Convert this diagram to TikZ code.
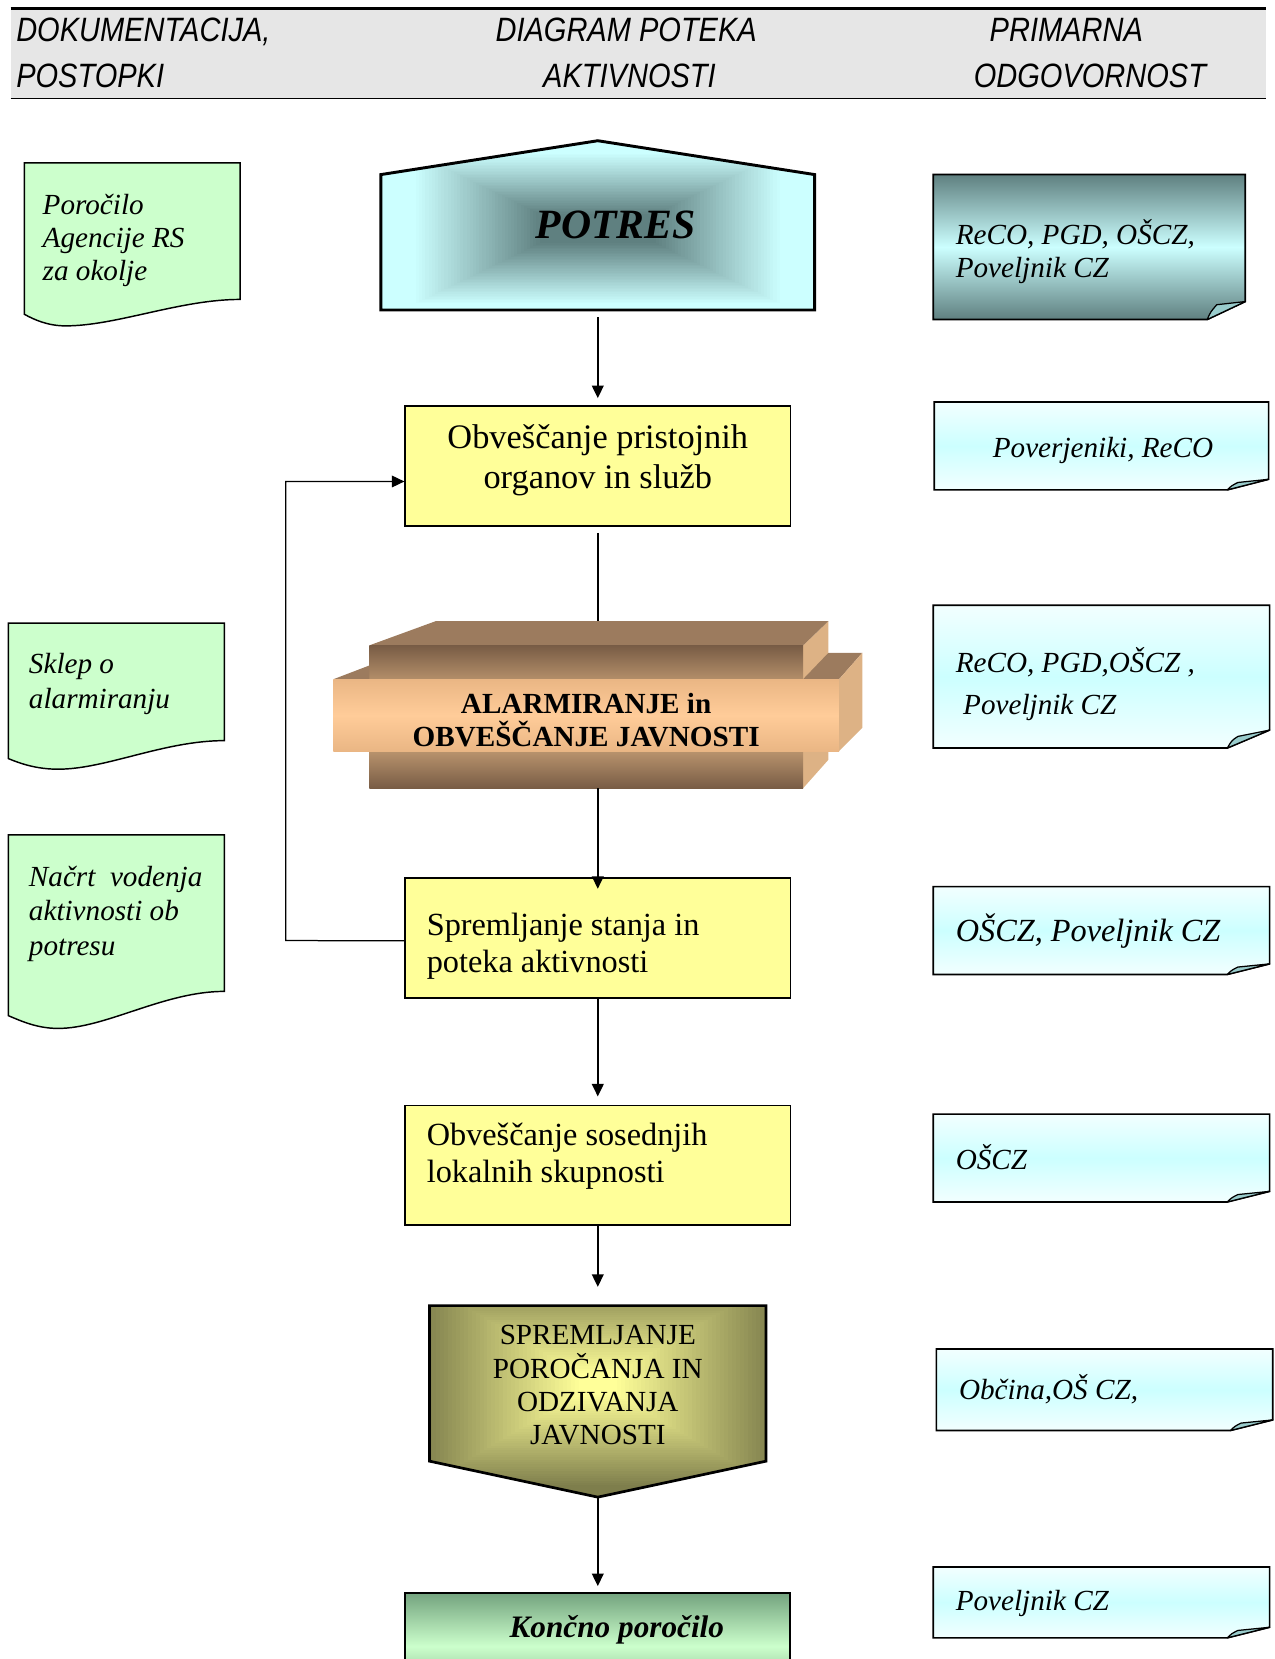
\documentclass[tikz,border=0pt]{standalone}
\usepackage{fontspec}
\setmainfont{Liberation Serif}
\newfontfamily\hdrfont[FakeStretch=0.86]{Liberation Sans}
\usetikzlibrary{arrows.meta}
\newlength\px \setlength\px{0.5079pt}
\definecolor{boxyellow}{HTML}{FFFF99}
\definecolor{docgreen}{HTML}{CCFFCC}
\definecolor{lcyan}{HTML}{CCFFFF}
\definecolor{pcyan}{HTML}{F2FFFF}
\definecolor{dteal}{HTML}{5F8080}
\definecolor{olivec}{HTML}{7E7E4C}
\definecolor{lyellow}{HTML}{FFFF99}
\definecolor{browntop}{HTML}{9C7B5E}
\definecolor{brownside}{HTML}{DDB285}
\definecolor{browndark}{HTML}{785C45}
\definecolor{brownlight}{HTML}{F5C692}
\definecolor{peach}{HTML}{FFCC99}
\definecolor{peachedge}{HTML}{EAB684}
\definecolor{dgreen}{HTML}{74A47F}
\definecolor{foldc}{HTML}{99CCCC}
\definecolor{hdrgray}{HTML}{E6E6E6}
\begin{document}
\begin{tikzpicture}[x=0.5079pt,y=-0.5079pt,line join=miter,
  box/.style={draw,line width=0.8pt,fill=boxyellow,minimum width=364*\px,minimum height=113*\px,inner sep=0pt},
  conn/.style={line width=0.8pt,-{Triangle[length=6pt,width=5.6pt]}},
  plainline/.style={line width=0.8pt},
  hdr/.style={anchor=base west,inner sep=0pt,font=\hdrfont\itshape\fontsize{16.2}{18}\selectfont},
  doctxt/.style={anchor=base west,inner sep=0pt,font=\itshape\fontsize{14}{16}\selectfont},
  notetxt/.style={anchor=base west,inner sep=0pt,font=\itshape\fontsize{14}{16}\selectfont},
  boxtxt/.style={anchor=base west,inner sep=0pt,font=\fontsize{15.5}{18}\selectfont},
  doc/.style={draw,line width=0.7pt,fill=docgreen},
  notebox/.style={draw,line width=0.8pt},
  fold/.style={draw,line width=0.6pt,fill=foldc,line join=round}]
\useasboundingbox (0,0) rectangle (1205,1568);

% ---------- header ----------
\fill[hdrgray] (10,8) rectangle (1197,93);
\draw[line width=1.2pt] (10,8) -- (1197,8);
\draw[line width=0.8pt] (10,93) -- (1197,93);
\node[hdr] (h1) at (15,39) {DOKUMENTACIJA,};
\node[hdr] (h2) at (15,83) {POSTOPKI};
\node[hdr] (h3) at (468,39) {DIAGRAM POTEKA};
\node[hdr] (h4) at (513,83) {AKTIVNOSTI};
\node[hdr] (h5) at (935,39) {PRIMARNA};
\node[hdr] (h6) at (920,83) {ODGOVORNOST};

% ---------- left documents ----------
\draw[doc] (23,154) -- (227,154) -- (227,283) .. controls (170,283) and (110,308) .. (62,308) .. controls (45,308) and (32,302) .. (23,297) -- cycle;
\node[doctxt] (d1a) at (40,203) {Poročilo};
\node[doctxt] (d1b) at (40,234) {Agencije RS};
\node[doctxt] (d1c) at (40,265) {za okolje};

\draw[doc] (8,589) -- (212,589) -- (212,700) .. controls (155,700) and (100,727) .. (55,727) .. controls (35,727) and (20,722) .. (8,717) -- cycle;
\node[doctxt] (d2a) at (27,637) {Sklep o};
\node[doctxt] (d2b) at (27,670) {alarmiranju};

\draw[doc] (8,789) -- (212,789) -- (212,937) .. controls (155,937) and (100,972) .. (55,972) .. controls (35,972) and (20,965) .. (8,960) -- cycle;
\node[doctxt] (d3a) at (27,838) {Načrt\ \ vodenja};
\node[doctxt] (d3b) at (27,870) {aktivnosti ob};
\node[doctxt] (d3c) at (27,903) {potresu};

% ---------- right notes ----------
\shade[notebox,top color=dteal,bottom color=dteal,middle color=lcyan] (882,165) -- (1177,165) -- (1177,285) -- (1141,302) -- (882,302) -- cycle;
\draw[fold] (1141,302) .. controls (1144,295) .. (1150,288) -- (1177,285) -- cycle;
\node[notetxt] (n1a) at (903,231) {ReCO, PGD, OŠCZ,};
\node[notetxt] (n1b) at (903,262) {Poveljnik CZ};

\shade[notebox,top color=pcyan,bottom color=pcyan,middle color=lcyan] (883,380) -- (1199,380) -- (1199,453) -- (1160,463) -- (883,463) -- cycle;
\draw[fold] (1160,463) .. controls (1164,459) .. (1170,456) -- (1199,453) -- cycle;
\node[notetxt] (n2) at (938,432) {Poverjeniki, ReCO};

\shade[notebox,top color=pcyan,bottom color=pcyan,middle color=lcyan] (882,572) -- (1200,572) -- (1200,690) -- (1160,707) -- (882,707) -- cycle;
\draw[fold] (1160,707) .. controls (1164,700) .. (1170,696) -- (1200,690) -- cycle;
\node[notetxt] (n3a) at (903,636) {ReCO, PGD,OŠCZ ,};
\node[notetxt] (n3b) at (910,675) {Poveljnik CZ};

\shade[notebox,top color=pcyan,bottom color=pcyan,middle color=lcyan] (882,838) -- (1200,838) -- (1200,911) -- (1160,921) -- (882,921) -- cycle;
\draw[fold] (1160,921) .. controls (1164,917) .. (1170,914) -- (1200,911) -- cycle;
\node[notetxt,font=\itshape\fontsize{15.5}{18}\selectfont] (n4) at (903,890) {OŠCZ, Poveljnik CZ};

\shade[notebox,top color=pcyan,bottom color=pcyan,middle color=lcyan] (882,1053) -- (1200,1053) -- (1200,1126) -- (1160,1136) -- (882,1136) -- cycle;
\draw[fold] (1160,1136) .. controls (1164,1132) .. (1170,1129) -- (1200,1126) -- cycle;
\node[notetxt] (n5) at (903,1105) {OŠCZ};

\shade[notebox,top color=pcyan,bottom color=pcyan,middle color=lcyan] (885,1275) -- (1203,1275) -- (1203,1342) -- (1163,1352) -- (885,1352) -- cycle;
\draw[fold] (1163,1352) .. controls (1167,1348) .. (1173,1345) -- (1203,1342) -- cycle;
\node[notetxt] (n6) at (906,1323) {Občina,OŠ CZ,};

\shade[notebox,top color=pcyan,bottom color=pcyan,middle color=lcyan] (882,1481) -- (1200,1481) -- (1200,1538) -- (1160,1548) -- (882,1548) -- cycle;
\draw[fold] (1160,1548) .. controls (1164,1544) .. (1170,1541) -- (1200,1538) -- cycle;
\node[notetxt] (n7) at (903,1522) {Poveljnik CZ};

% ---------- POTRES ----------
\begin{scope}
\clip (360,165) -- (565,133) -- (770,165) -- (770,293) -- (360,293) -- cycle;
\fill[lcyan] (350,120) rectangle (780,300);
\foreach \i in {0,...,40}{
  \pgfmathsetmacro\pc{100*\i/40}
  \pgfmathsetmacro\hw{175-120*\i/40}
  \pgfmathsetmacro\hh{72-58*\i/40}
  \fill[dteal!\pc!lcyan] ({565-\hw},{216-\hh}) rectangle ({565+\hw},{216+\hh});
}
\end{scope}
\draw[line width=1.4pt] (360,165) -- (565,133) -- (770,165) -- (770,293) -- (360,293) -- cycle;
\node[anchor=base,inner sep=0pt,font=\bfseries\itshape\fontsize{20}{24}\selectfont] (potres) at (582,225) {POTRES};
\coordinate (potresB) at (565,300);

% ---------- box 1 ----------
\node[box] (b1) at (565,440.5) {};
\node[anchor=base,inner sep=0pt,font=\fontsize{16.5}{19}\selectfont] (b1a) at (565,424) {Obveščanje pristojnih};
\node[anchor=base,inner sep=0pt,font=\fontsize{16.5}{19}\selectfont] (b1b) at (565,462) {organov in služb};
\draw[conn,shorten >=3.5pt] (potresB) -- (b1.north);

% ---------- ALARM ----------
\coordinate (alarmT) at (565,600);
\coordinate (alarmB) at (565,745);
\draw[plainline,shorten <=3pt] (b1.south) -- (alarmT);
\fill[brownside] (759,610) -- (783,587) -- (783,718) -- (759,745) -- cycle;
\fill[browntop] (349,610) -- (412,587) -- (783,587) -- (759,610) -- cycle;
\shade[top color=browndark,bottom color=browndark,middle color=brownlight] (349,610) rectangle (759,745);
\fill[browntop] (315,642) -- (349,629) -- (349,642) -- cycle;
\fill[browntop] (759,642) -- (783,617) -- (815,617) -- (793,642) -- cycle;
\shade[top color=peachedge,bottom color=peachedge,middle color=peach] (315,642) rectangle (793,710);
\fill[brownside] (793,642) -- (815,617) -- (815,688) -- (793,710) -- cycle;
\node[anchor=base,inner sep=0pt,font=\bfseries\fontsize{14}{16}\selectfont] (al1) at (554,674) {ALARMIRANJE in};
\node[anchor=base,inner sep=0pt,font=\bfseries\fontsize{14}{16}\selectfont] (al2) at (554,706) {OBVEŠČANJE JAVNOSTI};

% ---------- box 2 ----------
\node[box] (b2) at (565,886.5) {};
\node[boxtxt] (b2a) at (403,884) {Spremljanje stanja in};
\node[boxtxt] (b2b) at (403,919) {poteka aktivnosti};
\coordinate (b2in) at ([yshift=-5.5pt]b2.north);
\draw[conn] (alarmB) -- (b2in);

% feedback loop
\coordinate (fbA) at (270,889);
\draw[conn,line width=0.6pt] ([yshift=-1.3pt]b2.west) -- (fbA) |- ([yshift=-7.4pt]b1.west);

% ---------- box 3 ----------
\node[box] (b3) at (565,1101.5) {};
\node[boxtxt] (b3a) at (403,1083) {Obveščanje sosednjih};
\node[boxtxt] (b3b) at (403,1118) {lokalnih skupnosti};
\draw[conn,shorten >=4pt] (b2.south) -- (b3.north);

% ---------- box 4 (pentagon down) ----------
\coordinate (b4T) at (565,1234);
\coordinate (b4B) at (565,1415);
\begin{scope}
\clip (406,1234) -- (724,1234) -- (724,1381) -- (565,1415) -- (406,1381) -- cycle;
\fill[olivec] (400,1228) rectangle (730,1420);
\foreach \i in {0,...,40}{
  \pgfmathsetmacro\pc{100*\i/40}
  \pgfmathsetmacro\hw{168-150*\i/40}
  \pgfmathsetmacro\hh{98-88*\i/40}
  \fill[lyellow!\pc!olivec] ({565-\hw},{1308-\hh}) rectangle ({565+\hw},{1308+\hh});
}
\end{scope}
\draw[line width=1.3pt] (406,1234) -- (724,1234) -- (724,1381) -- (565,1415) -- (406,1381) -- cycle;
\node[anchor=base,inner sep=0pt,font=\fontsize{14}{16}\selectfont] (b4a) at (565,1271) {SPREMLJANJE};
\node[anchor=base,inner sep=0pt,font=\fontsize{14}{16}\selectfont] (b4b) at (565,1303) {POROČANJA IN};
\node[anchor=base,inner sep=0pt,font=\fontsize{14}{16}\selectfont] (b4c) at (565,1334) {ODZIVANJA};
\node[anchor=base,inner sep=0pt,font=\fontsize{14}{16}\selectfont] (b4d) at (565,1365) {JAVNOSTI};
\draw[conn,shorten >=9pt] (b3.south) -- (b4T);

% ---------- box 5 ----------
\node[draw,line width=1pt,minimum width=364*\px,minimum height=100*\px,inner sep=0pt,
  top color=dgreen,bottom color=dgreen,middle color=docgreen] (b5) at (565,1556) {};
\node[anchor=base,inner sep=0pt,font=\bfseries\itshape\fontsize{15}{18}\selectfont] (b5a) at (583,1548) {Končno poročilo};
\draw[conn,shorten >=3pt] (b4B) -- (b5.north);
\end{tikzpicture}
\end{document}
